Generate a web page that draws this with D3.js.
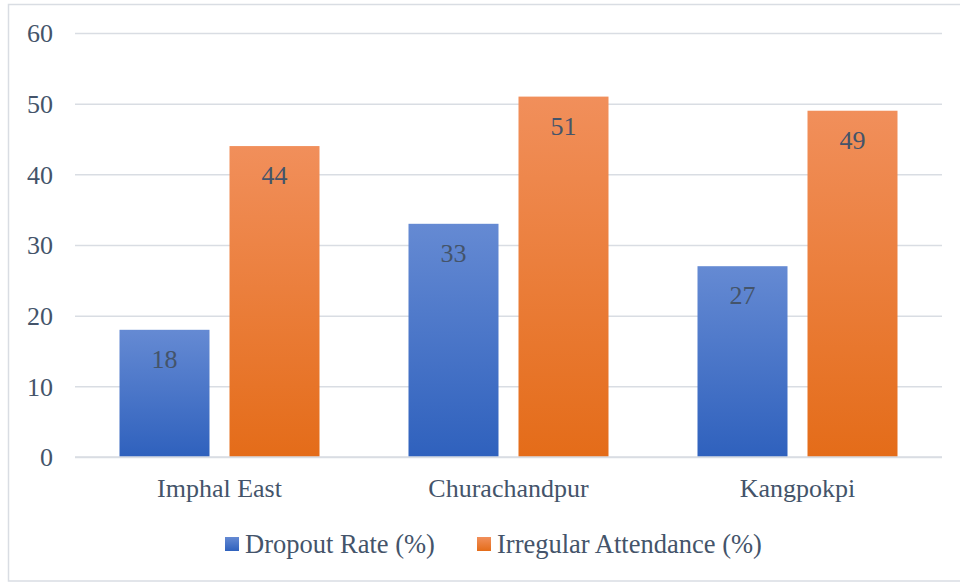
<!DOCTYPE html>
<html>
<head>
<meta charset="utf-8">
<script src="https://cdn.jsdelivr.net/npm/d3@7"></script>
<style>
  body { margin: 0; background: #fff; }
</style>
</head>
<body>
<div id="chart"></div>
<script>
var categories = ["Imphal East", "Churachandpur", "Kangpokpi"];
var series = ["Dropout Rate (%)", "Irregular Attendance (%)"];
var dropout = [18, 33, 27];
var irregular = [44, 51, 49];
var yTicks = [0, 10, 20, 30, 40, 50, 60];

var values = [dropout, irregular];
var colors = [
  {top: "#658ad3", bottom: "#2f61bd"},
  {top: "#f18f5b", bottom: "#e46c19"}
];

var width = 960, height = 582;
var margin = {top: 33, right: 18, bottom: 125, left: 75};
var font = "'Liberation Serif'";
var textColor = "#44546a";

var svg = d3.select("#chart").append("svg")
    .attr("width", width)
    .attr("height", height);

// outer frame
svg.append("rect")
    .attr("x", 8.5).attr("y", 4.5)
    .attr("width", 960).attr("height", 576.5)
    .attr("fill", "none")
    .attr("stroke", "#d9dde3")
    .attr("stroke-width", 1.5);

var defs = svg.append("defs");
colors.forEach(function(c, i) {
  var g = defs.append("linearGradient")
      .attr("id", "grad" + i)
      .attr("x1", 0).attr("y1", 0).attr("x2", 0).attr("y2", 1);
  g.append("stop").attr("offset", "0%").attr("stop-color", c.top);
  g.append("stop").attr("offset", "100%").attr("stop-color", c.bottom);
});

var x0 = d3.scaleBand()
    .domain(categories)
    .range([margin.left, width - margin.right]);

var x1 = d3.scaleBand()
    .domain(series)
    .range([-100, 100])
    .paddingInner(20 / 110);

var y = d3.scaleLinear()
    .domain([0, 60])
    .range([height - margin.bottom, margin.top]);

// grid lines + tick labels
var yAxis = d3.axisLeft(y)
    .tickValues(yTicks)
    .tickSize(-(width - margin.left - margin.right))
    .tickPadding(22);

var gy = svg.append("g")
    .attr("transform", "translate(" + margin.left + ",0)")
    .call(yAxis);
gy.select(".domain").remove();
gy.selectAll(".tick line")
    .attr("stroke", "#d9dde3")
    .attr("stroke-width", 1.5);
gy.selectAll(".tick text")
    .style("font-family", font)
    .style("font-size", "26px")
    .attr("fill", textColor)
    .attr("dy", "0.34em");

// bars
var groups = svg.selectAll(".grp")
    .data(categories)
  .enter().append("g")
    .attr("class", "grp")
    .attr("transform", function(d) { return "translate(" + (x0(d) + x0.bandwidth() / 2) + ",0)"; });

series.forEach(function(s, si) {
  groups.append("rect")
      .attr("x", x1(s))
      .attr("width", x1.bandwidth())
      .attr("y", function(d, i) { return y(values[si][i]); })
      .attr("height", function(d, i) { return y(0) - y(values[si][i]); })
      .attr("fill", "url(#grad" + si + ")");

  groups.append("text")
      .attr("x", x1(s) + x1.bandwidth() / 2)
      .attr("y", function(d, i) { return y(values[si][i]) + 38; })
      .attr("text-anchor", "middle")
      .attr("fill", textColor)
      .style("font-family", font)
      .style("font-size", "26px")
      .text(function(d, i) { return values[si][i]; });
});

// baseline
svg.append("line")
    .attr("x1", margin.left).attr("x2", width - margin.right)
    .attr("y1", y(0)).attr("y2", y(0))
    .attr("stroke", "#d9dde3")
    .attr("stroke-width", 1.5);

// category labels
svg.selectAll(".cat")
    .data(categories)
  .enter().append("text")
    .attr("class", "cat")
    .attr("x", function(d) { return x0(d) + x0.bandwidth() / 2; })
    .attr("y", 497)
    .attr("text-anchor", "middle")
    .attr("fill", textColor)
    .style("font-family", font)
    .style("font-size", "26px")
    .text(function(d) { return d; });

// legend
var legendX = [225, 477];
var legend = svg.selectAll(".leg")
    .data(series)
  .enter().append("g")
    .attr("class", "leg")
    .attr("transform", function(d, i) { return "translate(" + legendX[i] + ",537)"; });
legend.append("rect")
    .attr("width", 14).attr("height", 14)
    .attr("fill", function(d, i) { return "url(#grad" + i + ")"; });
legend.append("text")
    .attr("x", 20)
    .attr("y", 16)
    .attr("fill", textColor)
    .style("font-family", font)
    .style("font-size", "26.5px")
    .text(function(d) { return d; });
</script>
</body>
</html>
